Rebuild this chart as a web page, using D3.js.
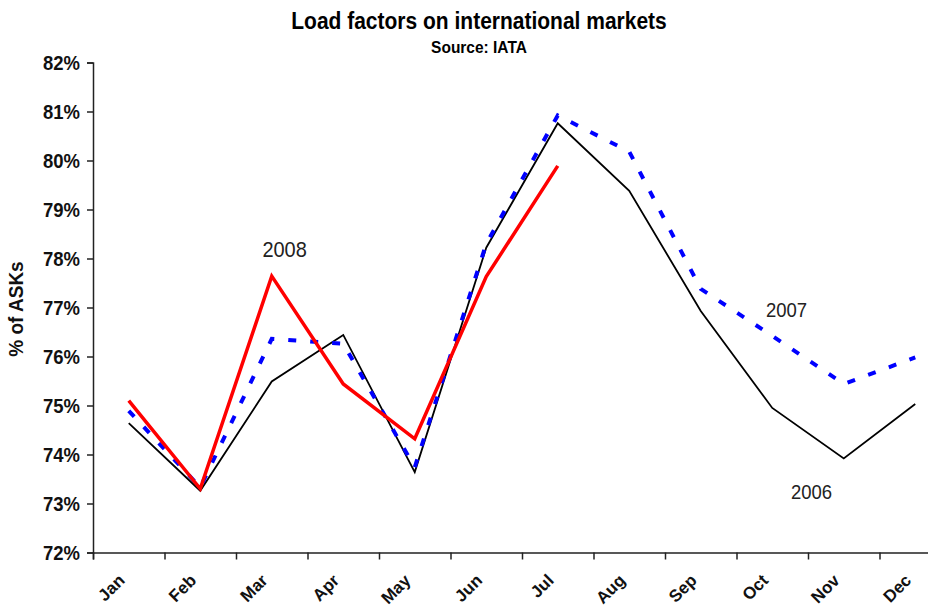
<!DOCTYPE html>
<html>
<head>
<meta charset="utf-8">
<script src="https://cdn.jsdelivr.net/npm/d3@7"></script>
<style>
  body { margin: 0; background: #fff; }
  svg { display: block; font-family: Arial, "Liberation Sans", sans-serif; }
</style>
</head>
<body>
<svg id="chart" width="928" height="609"></svg>
<script>
// months on the x axis
var months = ["Jan", "Feb", "Mar", "Apr", "May", "Jun", "Jul", "Aug", "Sep", "Oct", "Nov", "Dec"];

// load factor (% of ASKs)
var lf2006 = [74.64, 73.26, 75.49, 76.44, 73.64, 78.22, 80.76, 79.38, 76.93, 74.95, 73.92, 75.03];
var lf2007 = [74.89, 73.33, 76.36, 76.26, 73.74, 78.30, 80.92, 80.18, 77.38, 76.42, 75.44, 75.98];
var lf2008 = [75.10, 73.30, 77.64, 75.44, 74.32, 77.63, 79.89];

var yTicks = [72, 73, 74, 75, 76, 77, 78, 79, 80, 81, 82];

// series labels: text, month position (index), value
var labelText = ["2008", "2007", "2006"];
var labelPos = [2.18, 9.2, 9.55];
var labelVal = [78.03, 76.8, 73.09];

var svg = d3.select("#chart");

var plotLeft = 93, plotRight = 951, plotTop = 62.5, plotBottom = 552.5;

var x = d3.scaleBand().domain(months).range([plotLeft, plotRight]).padding(0);
var xLin = d3.scaleLinear().domain([0, months.length]).range([plotLeft, plotRight]);
var y = d3.scaleLinear().domain([72, 82]).range([plotBottom, plotTop]);

var stretch = "scale(1,1.1)";

// title
svg.append("text")
    .attr("transform", "translate(479,29) " + stretch)
    .attr("text-anchor", "middle")
    .style("font-size", "21px")
    .style("font-weight", "bold")
    .text("Load factors on international markets");

svg.append("text")
    .attr("transform", "translate(479,53) " + stretch)
    .attr("text-anchor", "middle")
    .style("font-size", "15.5px")
    .style("font-weight", "bold")
    .text("Source: IATA");

// y axis
var yAxis = svg.append("g")
    .attr("transform", "translate(" + plotLeft + ",0)")
    .call(d3.axisLeft(y).tickValues(yTicks).tickSize(6).tickPadding(7)
        .tickFormat(function (d) { return d + "%"; }));

yAxis.select(".domain").attr("stroke", "#222").attr("stroke-width", 1.5);
yAxis.selectAll(".tick line").attr("stroke", "#222").attr("stroke-width", 1.5);
yAxis.selectAll(".tick text")
    .attr("transform", stretch)
    .attr("fill", "#111")
    .style("font-size", "18.5px")
    .style("font-weight", "bold")
    .style("font-family", "Arial, 'Liberation Sans', sans-serif");

svg.append("text")
    .attr("transform", "translate(23,309) rotate(-90) " + stretch)
    .attr("text-anchor", "middle")
    .style("font-size", "19px")
    .style("font-weight", "bold")
    .attr("fill", "#111")
    .text("% of ASKs");

// x axis: tick marks between months
var xTickVals = d3.range(0, months.length + 1);
var xAxis = svg.append("g")
    .attr("transform", "translate(0," + plotBottom + ")")
    .call(d3.axisBottom(xLin).tickValues(xTickVals).tickSize(7).tickFormat(""));

xAxis.select(".domain").attr("stroke", "#222").attr("stroke-width", 1.5);
xAxis.selectAll(".tick line").attr("stroke", "#222").attr("stroke-width", 1.5);

// month labels, rotated
svg.append("g")
    .selectAll("text")
    .data(months)
    .enter()
    .append("text")
    .attr("transform", function (d) {
        return "translate(" + (x(d) + x.bandwidth() / 2 - 3) + "," + (plotBottom + 29) + ") rotate(-45)";
    })
    .attr("text-anchor", "end")
    .style("font-size", "17px")
    .style("font-weight", "bold")
    .attr("fill", "#111")
    .text(function (d) { return d; });

// lines
var line = d3.line()
    .x(function (d, i) { return x(months[i]) + x.bandwidth() / 2; })
    .y(function (d) { return y(d); });

svg.append("path")
    .datum(lf2006)
    .attr("d", line)
    .attr("fill", "none")
    .attr("stroke", "#000")
    .attr("stroke-width", 1.8);

svg.append("path")
    .datum(lf2007)
    .attr("d", line)
    .attr("fill", "none")
    .attr("stroke", "#0000ff")
    .attr("stroke-width", 4)
    .attr("stroke-dasharray", "8,14");

svg.append("path")
    .datum(lf2008)
    .attr("d", line)
    .attr("fill", "none")
    .attr("stroke", "#ff0000")
    .attr("stroke-width", 3.5);

// series labels
svg.append("g")
    .selectAll("text")
    .data(labelText)
    .enter()
    .append("text")
    .attr("transform", function (d, i) {
        return "translate(" + xLin(labelPos[i] + 0.5) + "," + y(labelVal[i]) + ") " + stretch;
    })
    .attr("text-anchor", "middle")
    .style("font-size", function (d, i) { return i === 0 ? "20px" : "18.5px"; })
    .attr("fill", "#222")
    .text(function (d) { return d; });
</script>
</body>
</html>
